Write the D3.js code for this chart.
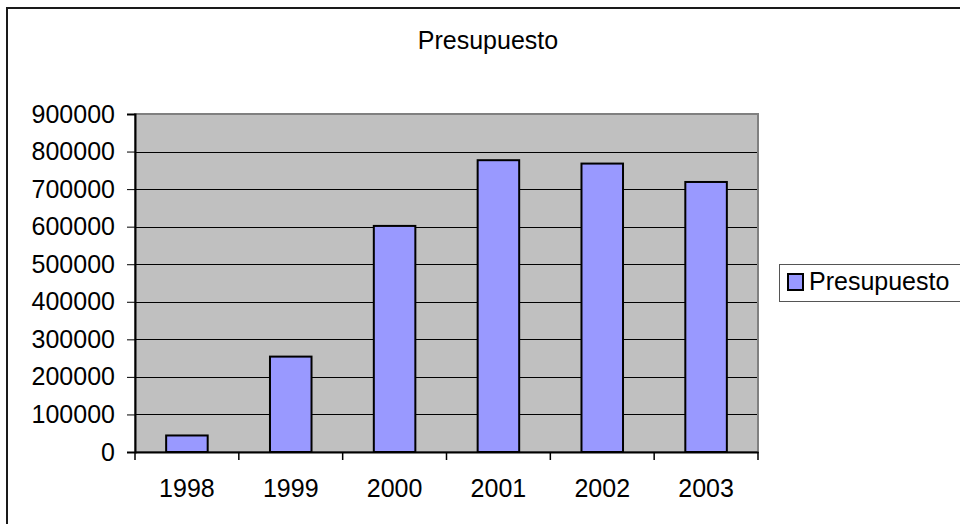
<!DOCTYPE html>
<html>
<head>
<meta charset="utf-8">
<script src="https://d3js.org/d3.v7.min.js"></script>
<style>
  body { margin: 0; background: #fff; }
  svg text { font-family: "Liberation Sans", Arial, sans-serif; fill: #000; }
</style>
</head>
<body>
<div id="chart"></div>
<script>
// data
var years = ["1998", "1999", "2000", "2001", "2002", "2003"];
var presupuesto = [44000, 254000, 602000, 777000, 768000, 719000];
var yTicks = [0, 100000, 200000, 300000, 400000, 500000, 600000, 700000, 800000, 900000];
var seriesName = "Presupuesto";
var chartTitle = "Presupuesto";

var W = 960, H = 524;
var plot = { left: 135, right: 758, top: 114, bottom: 452 };
var fontSize = "25px";

var svg = d3.select("#chart").append("svg")
  .attr("width", W)
  .attr("height", H);

// outer chart frame (runs off the right and bottom edges)
svg.append("rect")
  .attr("x", 7).attr("y", 8)
  .attr("width", 1000).attr("height", 600)
  .attr("fill", "#fff")
  .attr("stroke", "#1a1a1a")
  .attr("stroke-width", 2);

var x = d3.scaleBand()
  .domain(years)
  .range([plot.left, plot.right])
  .paddingInner(0.6)
  .paddingOuter(0.3);

var y = d3.scaleLinear()
  .domain([0, 900000])
  .range([plot.bottom, plot.top]);

// title
svg.append("text")
  .attr("x", 488).attr("y", 49)
  .attr("text-anchor", "middle")
  .style("font-size", fontSize)
  .text(chartTitle);

// plot area
svg.append("rect")
  .attr("x", plot.left).attr("y", plot.top)
  .attr("width", plot.right - plot.left)
  .attr("height", plot.bottom - plot.top)
  .attr("fill", "#c0c0c0")
  .attr("stroke", "#808080")
  .attr("stroke-width", 2);

// gridlines
svg.append("g")
  .selectAll("line")
  .data(yTicks.filter(function(d) { return d > 0 && d < 900000; }))
  .enter().append("line")
  .attr("x1", plot.left).attr("x2", plot.right - 1)
  .attr("y1", function(d) { return Math.round(y(d)) + 0.5; })
  .attr("y2", function(d) { return Math.round(y(d)) + 0.5; })
  .attr("stroke", "#000")
  .attr("stroke-width", 1);

// bars
svg.append("g")
  .selectAll("rect")
  .data(presupuesto)
  .enter().append("rect")
  .attr("x", function(d, i) { return x(years[i]); })
  .attr("y", function(d) { return y(d); })
  .attr("width", x.bandwidth())
  .attr("height", function(d) { return y(0) - y(d); })
  .attr("fill", "#9999ff")
  .attr("stroke", "#000")
  .attr("stroke-width", 2);

// y axis
var yAxis = svg.append("g")
  .attr("transform", "translate(" + plot.left + ",0)")
  .call(d3.axisLeft(y).tickValues(yTicks).tickSize(8).tickPadding(12)
    .tickFormat(d3.format("d")));
yAxis.select(".domain").attr("stroke", "#000").attr("stroke-width", 2);
yAxis.selectAll(".tick line").attr("stroke", "#000");
yAxis.selectAll("text").style("font-size", fontSize);

// x axis
var xAxis = svg.append("g")
  .attr("transform", "translate(0," + plot.bottom + ")")
  .call(d3.axisBottom(x).tickSize(0).tickPadding(27).tickSizeOuter(0));
xAxis.select(".domain").attr("stroke", "#000").attr("stroke-width", 2);
xAxis.selectAll("text").style("font-size", fontSize);

// category boundary ticks
svg.append("g")
  .selectAll("line")
  .data(d3.range(years.length + 1))
  .enter().append("line")
  .attr("x1", function(i) { return plot.left + i * x.step(); })
  .attr("x2", function(i) { return plot.left + i * x.step(); })
  .attr("y1", plot.bottom)
  .attr("y2", plot.bottom + 8)
  .attr("stroke", "#000")
  .attr("stroke-width", 1.5);

// legend
var legend = svg.append("g");
legend.append("rect")
  .attr("x", 779.5).attr("y", 264.5)
  .attr("width", 300).attr("height", 37)
  .attr("fill", "#fff")
  .attr("stroke", "#555")
  .attr("stroke-width", 1);
legend.append("rect")
  .attr("x", 788).attr("y", 274)
  .attr("width", 15).attr("height", 16)
  .attr("fill", "#9999ff")
  .attr("stroke", "#000")
  .attr("stroke-width", 2);
legend.append("text")
  .attr("x", 809).attr("y", 290)
  .style("font-size", fontSize)
  .text(seriesName);
</script>
</body>
</html>
